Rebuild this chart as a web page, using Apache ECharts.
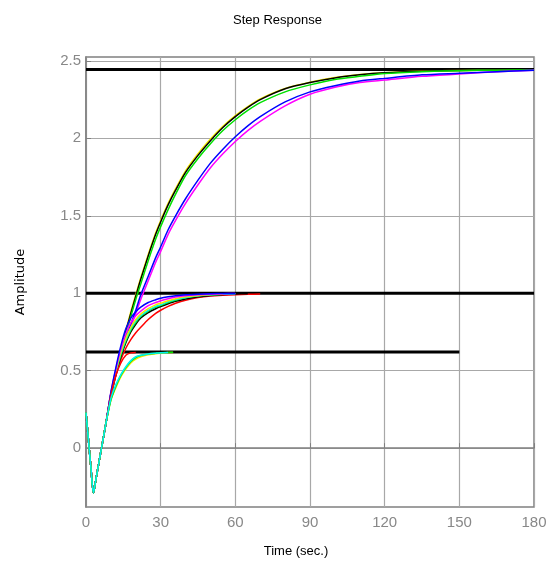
<!DOCTYPE html>
<html>
<head>
<meta charset="utf-8">
<script src="https://cdn.jsdelivr.net/npm/echarts@6/dist/echarts.min.js"></script>
<style>
html,body{margin:0;padding:0;background:#fff;}
#chart{width:555px;height:563px;}
</style>
</head>
<body>
<div id="chart"></div>
<script>
// ---- Data ----
const xTicks = [0, 30, 60, 90, 120, 150, 180];
const yTicks = [0, 0.5, 1, 1.5, 2, 2.5];

// common initial undershoot (all responses)
const tStart = [0, 1, 2, 3, 4, 5, 6, 7, 8];
const vStart = [0.23, 0.05, -0.13, -0.29, -0.20, -0.11, -0.02, 0.07, 0.16];

// Group A: settle at 2.44
const tA = [10, 12, 14, 16, 18, 20, 22, 25, 28, 30, 33, 36, 40, 45, 50, 55, 60, 65, 70, 80, 90, 100, 110, 120, 135, 150, 165, 180];
const blackA   = [0.33, 0.48, 0.62, 0.75, 0.87, 0.98, 1.09, 1.24, 1.38, 1.46, 1.57, 1.665, 1.78, 1.89, 1.985, 2.07, 2.14, 2.20, 2.25, 2.32, 2.36, 2.39, 2.41, 2.423, 2.433, 2.438, 2.44, 2.441];
const yellowA  = [0.34, 0.49, 0.63, 0.76, 0.88, 0.99, 1.10, 1.25, 1.39, 1.47, 1.58, 1.675, 1.79, 1.90, 1.995, 2.078, 2.147, 2.205, 2.255, 2.322, 2.362, 2.392, 2.412, 2.424, 2.434, 2.438, 2.44, 2.441];
const greenA   = [0.33, 0.47, 0.60, 0.73, 0.85, 0.96, 1.06, 1.21, 1.35, 1.43, 1.54, 1.64, 1.76, 1.87, 1.965, 2.05, 2.12, 2.18, 2.23, 2.30, 2.345, 2.38, 2.40, 2.418, 2.43, 2.437, 2.44, 2.441];
const blueA    = [0.34, 0.48, 0.60, 0.70, 0.80, 0.89, 0.99, 1.11, 1.23, 1.30, 1.41, 1.50, 1.61, 1.73, 1.84, 1.93, 2.01, 2.08, 2.14, 2.235, 2.30, 2.34, 2.37, 2.387, 2.41, 2.42, 2.43, 2.44];
const magentaA = [0.34, 0.47, 0.59, 0.69, 0.78, 0.87, 0.96, 1.08, 1.20, 1.27, 1.38, 1.47, 1.58, 1.70, 1.81, 1.90, 1.98, 2.05, 2.11, 2.21, 2.285, 2.33, 2.36, 2.376, 2.40, 2.415, 2.43, 2.44];

// Group B: settle at 1.0
const tB = [10, 12, 14, 16, 18, 20, 22, 25, 28, 30, 33, 36, 40, 45, 50, 55, 60, 65, 70];
const blueB    = [0.36, 0.52, 0.66, 0.77, 0.84, 0.88, 0.91, 0.94, 0.958, 0.968, 0.977, 0.984, 0.99, 0.994, 0.997, 0.998, 0.999];
const magentaB = [0.36, 0.51, 0.64, 0.74, 0.81, 0.855, 0.885, 0.92, 0.94, 0.952, 0.965, 0.975, 0.984, 0.99, 0.994, 0.997, 0.998];
const yellowB  = [0.35, 0.50, 0.62, 0.71, 0.78, 0.83, 0.865, 0.90, 0.925, 0.935, 0.952, 0.965, 0.977, 0.986, 0.992, 0.995];
const cyanB    = [0.35, 0.49, 0.61, 0.70, 0.77, 0.82, 0.855, 0.89, 0.915, 0.925, 0.945, 0.96, 0.973, 0.984, 0.99, 0.994, 0.997];
const greenB   = [0.35, 0.49, 0.60, 0.69, 0.76, 0.81, 0.85, 0.885, 0.91, 0.92, 0.94, 0.955, 0.97, 0.982, 0.989, 0.993, 0.996];
const blackB   = [0.35, 0.48, 0.59, 0.68, 0.75, 0.80, 0.84, 0.875, 0.90, 0.914, 0.932, 0.948, 0.963, 0.977, 0.986, 0.991, 0.995, 0.997];
const redB     = [0.34, 0.47, 0.57, 0.645, 0.70, 0.745, 0.78, 0.83, 0.87, 0.89, 0.915, 0.935, 0.955, 0.972, 0.982, 0.987, 0.99, 0.993, 0.995];

// Group C: settle at 0.62
const tC = [10, 12, 14, 16, 18, 20, 22, 25, 28, 30, 33, 35];
const greenC  = [0.31, 0.40, 0.47, 0.52, 0.56, 0.585, 0.598, 0.607, 0.612, 0.615, 0.618, 0.619];
const yellowC = [0.31, 0.39, 0.46, 0.51, 0.55, 0.575, 0.59, 0.602, 0.61, 0.613, 0.617, 0.618];
const cyanC   = [0.32, 0.41, 0.475, 0.525, 0.565, 0.59, 0.60, 0.608, 0.613, 0.616, 0.618];
const redC    = [0.34, 0.47, 0.55, 0.60, 0.615, 0.618];

// reference (final value) lines
const refLevels = [2.445, 1.0, 0.62];
const refEnds = [180, 180, 150];

// ---- Build ----
function curve(t, v) {
  const pts = tStart.map((x, i) => [x, vStart[i]]);
  for (let i = 0; i < v.length; i++) pts.push([t[i], v[i]]);
  return pts;
}
const curves = [
  [tA, yellowA, '#f2e600'], [tA, blackA, '#000000'], [tA, greenA, '#00e000'],
  [tA, magentaA, '#ff00ff'], [tA, blueA, '#0000ff'],
  [tB, redB, '#ff0000'], [tB, blackB, '#000000'], [tB, greenB, '#00e000'],
  [tB, cyanB, '#00f0f0'], [tB, yellowB, '#f2e600'], [tB, magentaB, '#ff00ff'], [tB, blueB, '#0000ff'],
  [tC, redC, '#ff0000'], [tC, yellowC, '#f2e600'], [tC, greenC, '#00e000'], [tC, cyanC, '#00f0f0']
];
const series = [];
refLevels.forEach((lv, i) => {
  series.push({
    type: 'line', data: [[0, lv], [refEnds[i], lv]], symbol: 'none',
    lineStyle: { color: '#000', width: 3 }, z: 2, silent: true
  });
});
curves.forEach(c => {
  series.push({
    type: 'line', data: curve(c[0], c[1]), symbol: 'none', smooth: 0.25,
    lineStyle: { color: c[2], width: 1.5 }, z: 3, silent: true
  });
});

const font = 'Liberation Sans, Arial, sans-serif';
const chart = echarts.init(document.getElementById('chart'), null, { renderer: 'canvas' });
chart.setOption({
  animation: false,
  backgroundColor: '#fff',
  title: {
    text: 'Step Response', left: 'center', top: 9,
    textStyle: { fontFamily: font, fontSize: 13, fontWeight: 'normal', color: '#000' }
  },
  grid: { left: 86, right: 21, top: 57, bottom: 56, show: true, borderColor: '#808080', borderWidth: 1.5 },
  xAxis: {
    type: 'value', min: 0, max: 180, interval: 30,
    axisLine: { show: true, lineStyle: { color: '#808080', width: 1.5 } },
    axisTick: { show: true, inside: true, length: 5, lineStyle: { color: '#808080' } },
    axisLabel: { color: '#888', fontSize: 15, fontFamily: font, margin: 8, customValues: xTicks },
    splitLine: { show: true, lineStyle: { color: '#a8a8a8', width: 1.2 } }
  },
  yAxis: {
    type: 'value', min: -0.38, max: 2.525,
    axisLine: { show: true, lineStyle: { color: '#808080', width: 1.5 } },
    axisTick: { show: true, inside: true, length: 5, lineStyle: { color: '#808080' }, customValues: yTicks },
    axisLabel: { color: '#888', fontSize: 15, fontFamily: font, margin: 5, customValues: yTicks,
      formatter: v => String(v) },
    splitLine: { show: true, lineStyle: { color: '#a8a8a8', width: 1.2 } }
  },
  graphic: [
    { type: 'text', x: 21, y: 282, rotation: Math.PI / 2,
      style: { text: 'Amplitude', fill: '#000', font: '13px DejaVu Sans, sans-serif', textAlign: 'center', textVerticalAlign: 'middle' } },
    { type: 'text', x: 296, y: 551,
      style: { text: 'Time (sec.)', fill: '#000', font: '13px ' + font, textAlign: 'center', textVerticalAlign: 'middle' } }
  ],
  series: series
});
</script>
</body>
</html>
